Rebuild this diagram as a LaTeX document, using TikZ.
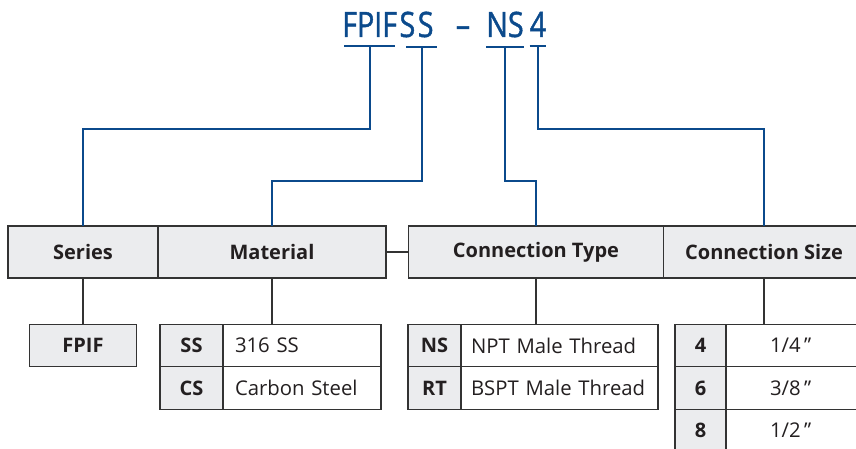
\documentclass[tikz,border=0pt]{standalone}
\usepackage{fontspec}
\setmainfont{Open Sans}
\newfontfamily\titelfont[FakeStretch=0.82, FakeBold=1.2]{Open Sans}
\usetikzlibrary{positioning}
\definecolor{titelblau}{HTML}{0B4A8C}
\definecolor{rahmen}{HTML}{333333}
\definecolor{feld}{HTML}{EBECEE}
\definecolor{schrift}{HTML}{231F20}
\newcommand{\zoll}{\symbol{34}}

\begin{document}
\begin{tikzpicture}[
        x=1pt, y=-1pt,
        every node/.style={font=\fontsize{20.3}{23}\selectfont, text=schrift},
        seg/.style={font=\titelfont\fontsize{35}{40}\selectfont, text=titelblau,
                    inner xsep=0pt, inner ysep=9pt},
        head/.style={draw=rahmen, line width=1.3pt, fill=feld, inner sep=0pt,
                     outer sep=0pt, minimum height=52pt,
                     font=\fontsize{20}{23}\selectfont\bfseries},
        code/.style={draw=rahmen, line width=1.3pt, fill=feld, inner sep=0pt,
                     outer sep=0pt, minimum height=42.5pt,
                     font=\fontsize{20}{23}\selectfont\bfseries},
        desc/.style={draw=rahmen, line width=1.3pt, fill=white, inner ysep=0pt,
                     outer sep=0pt, minimum height=42.5pt, align=left},
        wire/.style={titelblau, line width=2pt},
        link/.style={rahmen, line width=1.3pt},
      ]
      \useasboundingbox (0,0) rectangle (856,449);
      \clip (0,0) rectangle (856,449);

      % Bestellschluessel
      \node[seg, anchor=base west] (tFPIF) at (342,37) {FPIF};
      \node[seg, base right=2pt of tFPIF] (tSS) {S\kern2.5pt S};
      \node[seg, anchor=base] (tDash) at (463,37) {–};
      \node[seg, anchor=base] (tNS)   at (505,37) {NS};
      \node[seg, anchor=base] (tSize) at (538,37) {4};
      \draw[wire, shorten <=2pt, shorten >=2pt] (tFPIF.south west) -- (tFPIF.south east);
      \draw[wire, shorten <=7pt, shorten >=-3pt] (tSS.south west) -- (tSS.south east);
      \draw[wire] (tNS.south west) -- (tNS.south east);
      \draw[wire] (tSize.south west) -- (tSize.south east);

      % Kopfzeile
      \node[head, minimum width=150pt] (hSeries) at (83,252) {Series};
      \node[head, minimum width=228pt, right=0pt of hSeries] (hMaterial) {Material};
      \node[head, minimum width=255pt, right=22.5pt of hMaterial] (hType) {Connection Type};
      \node[head, minimum width=201pt, right=0pt of hType] (hSize) {Connection Size};
      \draw[link] (hMaterial.east) -- (hType.west);

      % Zuordnung Schluessel -> Kopfzeile
      \draw[wire] (tFPIF.south) -- (tFPIF.south |- 0,129) -| (hSeries.north);
      \draw[wire] ([xshift=5pt]tSS.south) -- ([xshift=5pt]tSS.south |- 0,181) -| (hMaterial.north);
      \draw[wire] (tNS.south) -- (tNS.south |- 0,181) -| (hType.north);
      \draw[wire] (tSize.south) -- (tSize.south |- 0,129) -| (hSize.north);

      % Series
      \node[code, minimum width=107pt] (vFPIF) at (83,345.5) {FPIF};

      % Material
      \node[code, minimum width=63pt] (cSS) at (191.5,345.5) {SS};
      \node[desc, inner xsep=12pt, text width=134pt, right=0pt of cSS] (dSS) {316 SS};
      \node[code, minimum width=63pt, below=0pt of cSS] (cCS) {CS};
      \node[desc, inner xsep=12pt, text width=134pt, right=0pt of cCS] (dCS) {Carbon Steel};

      % Connection Type
      \node[code, minimum width=53pt] (cNS) at (434.5,345.5) {NS};
      \node[desc, inner xsep=10pt, text width=177pt, right=0pt of cNS] (dNS) {NPT Male Thread};
      \node[code, minimum width=53pt, below=0pt of cNS] (cRT) {RT};
      \node[desc, inner xsep=10pt, text width=177pt, right=0pt of cRT] (dRT) {BSPT Male Thread};

      % Connection Size
      \node[code, minimum width=51pt] (c4) at (700.5,345.5) {4};
      \node[desc, inner xsep=44pt, text width=56pt, right=0pt of c4] (d4) {1/4\,\zoll};
      \node[code, minimum width=51pt, below=0pt of c4] (c6) {6};
      \node[desc, inner xsep=44pt, text width=56pt, right=0pt of c6] (d6) {3/8\,\zoll};
      \node[code, minimum width=51pt, below=0pt of c6] (c8) {8};
      \node[desc, inner xsep=44pt, text width=56pt, right=0pt of c8] (d8) {1/2\,\zoll};

      % Kopfzeile -> Tabellen
      \draw[link] (hSeries.south) -- (vFPIF.north);
      \draw[link] (hMaterial.south) -- (hMaterial.south |- dSS.north);
      \draw[link] (hType.south) -- (hType.south |- dNS.north);
      \draw[link] (hSize.south) -- (hSize.south |- d4.north);
    \end{tikzpicture}
\end{document}
